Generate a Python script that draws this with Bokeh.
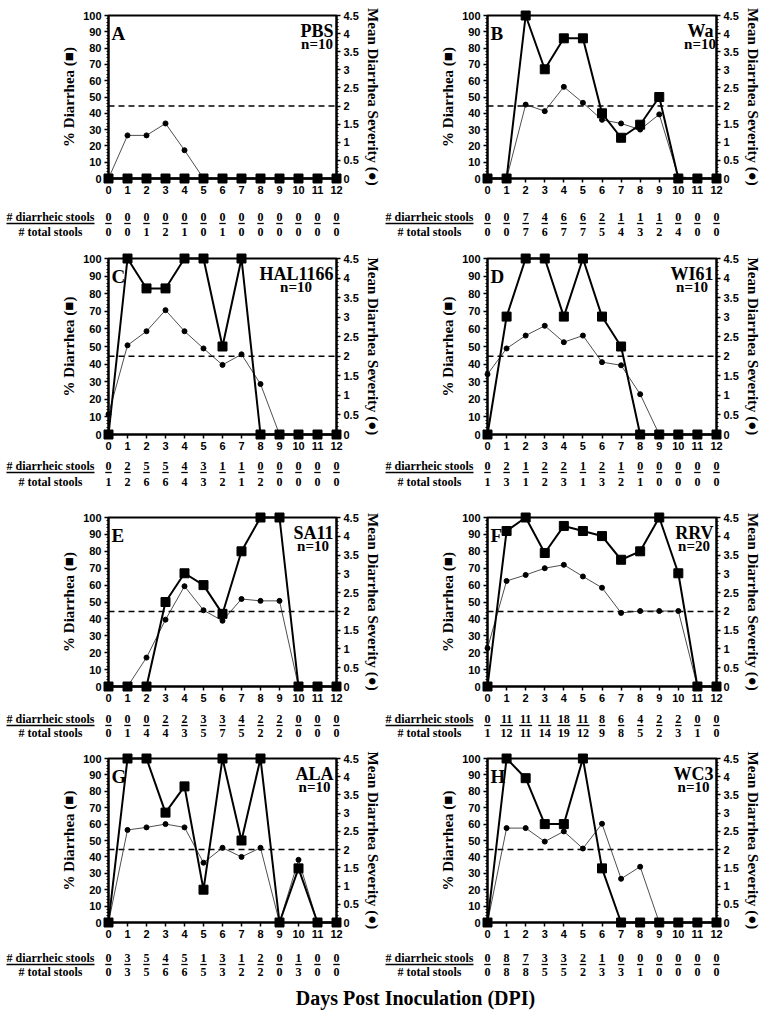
from bokeh.plotting import figure
from bokeh.models import Range1d, LinearAxis, SingleIntervalTicker, NumeralTickFormatter
from bokeh.layouts import column, row
from bokeh.embed import file_html
from bokeh.resources import INLINE
from bokeh.core.properties import value

# ---------------- data ----------------
days = list(range(13))
THRESHOLD = 2.0          # severity threshold (dashed line)
PCT_MAX = 100
SEV_MAX = 4.5

letters = ["A", "B", "C", "D", "E", "F", "G", "H"]
names = ["PBS", "Wa", "HAL1166", "WI61", "SA11", "RRV", "ALA", "WC3"]
group_n = ["n=10", "n=10", "n=10", "n=10", "n=10", "n=20", "n=10", "n=10"]

pct_A = [0, 0, 0, 0, 0, 0, 0, 0, 0, 0, 0, 0, 0]
sev_A = [0, 1.19, 1.19, 1.52, 0.78, 0, 0, 0, 0, 0, 0, 0, 0]
diar_A = [0, 0, 0, 0, 0, 0, 0, 0, 0, 0, 0, 0, 0]
total_A = [0, 0, 1, 2, 1, 0, 1, 0, 0, 0, 0, 0, 0]

pct_B = [0, 0, 100, 67, 86, 86, 40, 25, 33, 50, 0, 0, 0]
sev_B = [0, 0, 2.04, 1.86, 2.53, 2.09, 1.62, 1.52, 1.35, 1.77, 0.05, 0, 0]
diar_B = [0, 0, 7, 4, 6, 6, 2, 1, 1, 1, 0, 0, 0]
total_B = [0, 0, 7, 6, 7, 7, 5, 4, 3, 2, 4, 0, 0]

pct_C = [0, 100, 83, 83, 100, 100, 50, 100, 0, 0, 0, 0, 0]
sev_C = [0.52, 2.28, 2.64, 3.18, 2.64, 2.20, 1.78, 2.05, 1.29, 0, 0, 0, 0]
diar_C = [0, 2, 5, 5, 4, 3, 1, 1, 0, 0, 0, 0, 0]
total_C = [1, 2, 6, 6, 4, 3, 2, 1, 2, 0, 0, 0, 0]

pct_D = [0, 67, 100, 100, 67, 100, 67, 50, 0, 0, 0, 0, 0]
sev_D = [1.54, 2.20, 2.53, 2.78, 2.36, 2.53, 1.85, 1.77, 1.03, 0, 0, 0, 0]
diar_D = [0, 2, 1, 2, 2, 1, 2, 1, 0, 0, 0, 0, 0]
total_D = [1, 3, 1, 2, 3, 1, 3, 2, 1, 0, 0, 0, 0]

pct_E = [0, 0, 0, 50, 67, 60, 43, 80, 100, 100, 0, 0, 0]
sev_E = [0, 0, 0.77, 1.78, 2.67, 2.03, 1.75, 2.33, 2.28, 2.28, 0, 0, 0]
diar_E = [0, 0, 0, 2, 2, 3, 3, 4, 2, 2, 0, 0, 0]
total_E = [0, 1, 4, 4, 3, 5, 7, 5, 2, 2, 0, 0, 0]

pct_F = [0, 92, 100, 79, 95, 92, 89, 75, 80, 100, 67, 0, 0]
sev_F = [1.02, 2.81, 2.97, 3.15, 3.24, 2.93, 2.63, 1.96, 2.01, 2.01, 2.01, 0, 0]
diar_F = [0, 11, 11, 11, 18, 11, 8, 6, 4, 2, 2, 0, 0]
total_F = [1, 12, 11, 14, 19, 12, 9, 8, 5, 2, 3, 1, 0]

pct_G = [0, 100, 100, 67, 83, 20, 100, 50, 100, 0, 33, 0, 0]
sev_G = [0, 2.54, 2.61, 2.70, 2.61, 1.64, 2.05, 1.80, 2.05, 0, 1.72, 0, 0]
diar_G = [0, 3, 5, 4, 5, 1, 3, 1, 2, 0, 1, 0, 0]
total_G = [0, 3, 5, 6, 6, 5, 3, 2, 2, 0, 3, 0, 0]

pct_H = [0, 100, 88, 60, 60, 100, 33, 0, 0, 0, 0, 0, 0]
sev_H = [0, 2.59, 2.59, 2.22, 2.50, 2.03, 2.71, 1.20, 1.53, 0, 0, 0, 0]
diar_H = [0, 8, 7, 3, 3, 2, 1, 0, 0, 0, 0, 0, 0]
total_H = [0, 8, 8, 5, 5, 2, 3, 3, 1, 0, 0, 0, 0]

pct_all = [pct_A, pct_B, pct_C, pct_D, pct_E, pct_F, pct_G, pct_H]
sev_all = [sev_A, sev_B, sev_C, sev_D, sev_E, sev_F, sev_G, sev_H]
diar_all = [diar_A, diar_B, diar_C, diar_D, diar_E, diar_F, diar_G, diar_H]
total_all = [total_A, total_B, total_C, total_D, total_E, total_F, total_G, total_H]

y_label_left = "% Diarrhea (\u25A0)"
y_label_right = "Mean Diarrhea Severity (\u25CF)"
row_label_diar = "# diarrheic stools"
row_label_total = "# total stools"
x_title = "Days Post Inoculation (DPI)"

# ---------------- styling / layout ----------------
SERIF = "Liberation Serif"
SANS = "Liberation Sans"
# Times-bold advance widths (per 1000 em) for a few glyphs, to centre "n=" under names
TW = {"A": 722, "B": 667, "C": 722, "D": 722, "H": 778, "I": 389, "L": 667,
      "P": 611, "R": 722, "S": 556, "V": 722, "W": 1000, "a": 500,
      "#": 500, " ": 250, "d": 556, "i": 278, "r": 444, "h": 556, "e": 444,
      "c": 444, "s": 389, "t": 333, "o": 500, "l": 278}


def tw(s, size):
    return sum(TW.get(ch, 500) for ch in s) * size / 1000.0


ROWS = [dict(top=15, fh=163, bottom=62, d=38, t=53),
        dict(top=18, fh=176, bottom=62, d=31, t=47),
        dict(top=21, fh=169, bottom=56, d=32, t=46),
        dict(top=16, fh=164, bottom=58, d=35, t=49)]
COLS = [dict(left=108, fw=228, right=48),
        dict(left=103, fw=229, right=44)]
TITLE_H = 33


def style_axis(ax):
    ax.axis_line_width = 2
    ax.axis_line_color = "black"
    ax.major_tick_line_width = 1.5
    ax.major_tick_line_color = "black"
    ax.minor_tick_line_color = "black"
    ax.major_tick_out = 4
    ax.major_tick_in = 0
    ax.minor_tick_out = 2
    ax.minor_tick_in = 0
    ax.major_label_standoff = 3
    ax.major_label_text_font = SANS
    ax.major_label_text_font_style = "bold"
    ax.major_label_text_font_size = "11px"
    ax.major_label_text_color = "black"
    ax.axis_label_text_font = SERIF
    ax.axis_label_text_font_style = "bold"
    ax.axis_label_text_font_size = "15px"
    ax.axis_label_standoff = 3
    ax.axis_label_text_color = "black"


def make_panel(i):
    r = ROWS[i // 2]
    c = COLS[i % 2]
    fw, fh = c["fw"], r["fh"]
    p = figure(frame_width=fw, frame_height=fh,
               min_border_left=c["left"], min_border_right=c["right"],
               min_border_top=r["top"], min_border_bottom=r["bottom"],
               x_range=Range1d(days[0], days[-1]), y_range=Range1d(0, PCT_MAX),
               output_backend="svg", toolbar_location=None, tools="")
    p.extra_y_ranges = {"sev": Range1d(0, SEV_MAX), "px": Range1d(0, fh)}
    p.extra_x_ranges = {"px": Range1d(0, fw)}
    p.grid.visible = False
    p.outline_line_color = "black"
    p.outline_line_width = 2
    p.background_fill_color = "white"
    p.border_fill_color = "white"

    xa = p.xaxis[0]
    style_axis(xa)
    xa.ticker = days
    xa.minor_tick_out = 0

    ya = p.yaxis[0]
    style_axis(ya)
    ya.ticker = SingleIntervalTicker(interval=10, num_minor_ticks=5)
    ya.axis_label = y_label_left

    ra = LinearAxis(y_range_name="sev",
                    ticker=SingleIntervalTicker(interval=0.5, num_minor_ticks=5),
                    formatter=NumeralTickFormatter(format="0.[0]"),
                    axis_label=y_label_right)
    style_axis(ra)
    p.add_layout(ra, "right")

    # threshold
    p.line([days[0], days[-1]], [THRESHOLD, THRESHOLD], y_range_name="sev",
           line_color="black", line_width=1.5, line_dash="6 4")

    # severity (circles)
    sev = sev_all[i]
    p.line(days, sev, y_range_name="sev", line_color="#222222", line_width=0.8, level="overlay")
    p.scatter(days, sev, y_range_name="sev", marker="circle", size=5,
              fill_color="black", line_color="black", level="overlay")

    # % diarrhea (squares)
    pct = pct_all[i]
    p.line(days, pct, line_color="black", line_width=2, level="overlay")
    p.scatter(days, pct, marker="square", size=9, fill_color="black",
              line_color="black", level="overlay")

    # panel letter, name, n
    tkw = dict(x_range_name="px", y_range_name="px", text_font=value(SERIF),
               text_font_style="bold", text_color="black", level="overlay")
    p.text(x=[3], y=[fh - 18], text=[letters[i]], text_align="left",
           text_baseline="alphabetic", text_font_size="19px", **tkw)
    p.text(x=[fw - 3], y=[fh - 15], text=[names[i]], text_align="right",
           text_baseline="alphabetic", text_font_size="18px", **tkw)
    nx = fw - 3 - tw(names[i], 18) / 2.0
    p.text(x=[nx], y=[fh - 28], text=[group_n[i]], text_align="center",
           text_baseline="alphabetic", text_font_size="15px", **tkw)

    # stool table below axis
    d, t = r["d"], r["t"]
    diar = diar_all[i]
    total = total_all[i]
    nkw = dict(y_range_name="px", text_font=value(SERIF), text_font_style="bold",
               text_font_size="12px", text_align="center", text_baseline="middle",
               text_color="black", level="overlay")
    p.text(x=days, y=[-d] * len(days), text=[str(v) for v in diar], **nkw)
    p.text(x=days, y=[-t] * len(days), text=[str(v) for v in total], **nkw)
    p.rect(x=days, y=[-d - 7] * len(days), width=[6.5 * len(str(v)) for v in diar],
           height=[1.3] * len(days), width_units="screen", height_units="screen",
           y_range_name="px", fill_color="black", line_color=None, level="overlay")

    lx = -58
    p.text(x=[lx], y=[-d], text=[row_label_diar], x_range_name="px", **nkw)
    p.text(x=[lx], y=[-t], text=[row_label_total], x_range_name="px", **nkw)
    p.rect(x=[lx], y=[-d - 7], width=[tw(row_label_diar, 12)], height=[1.3],
           x_range_name="px", y_range_name="px", fill_color="black",
           line_color=None, level="overlay")
    return p


panels = [make_panel(i) for i in range(8)]

TOTAL_W = sum(c["left"] + c["fw"] + c["right"] for c in COLS)
title_fig = figure(frame_width=TOTAL_W, frame_height=TITLE_H, x_range=Range1d(0, TOTAL_W),
                   y_range=Range1d(0, TITLE_H), min_border=0, toolbar_location=None,
                   tools="", output_backend="svg", x_axis_location=None,
                   y_axis_location=None)
title_fig.grid.visible = False
title_fig.outline_line_color = None
title_fig.text(x=[415], y=[TITLE_H - 17], text=[x_title], text_align="center",
               text_baseline="middle", text_font=value(SERIF), text_font_style="bold",
               text_font_size="20px", text_color="black", level="overlay")

layout = column(row(panels[0], panels[1]), row(panels[2], panels[3]),
                row(panels[4], panels[5]), row(panels[6], panels[7]), title_fig)

open("out.html", "w").write(file_html(layout, INLINE))
